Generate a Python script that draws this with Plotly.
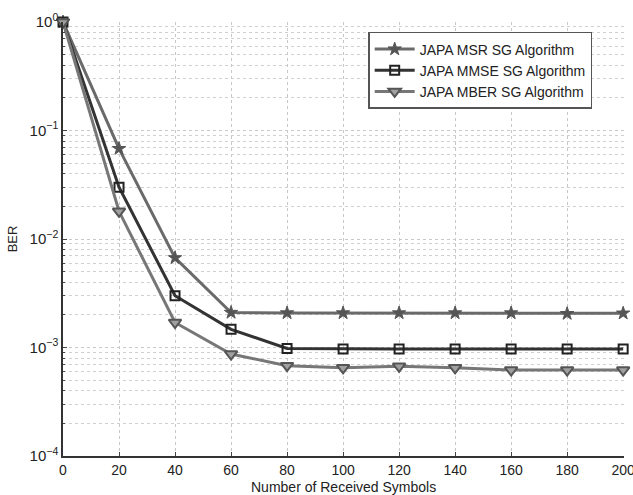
import plotly.graph_objects as go

symbols_x = [0, 20, 40, 60, 80, 100, 120, 140, 160, 180, 200]
ber_msr = [1.0, 0.068, 0.0067, 0.0021, 0.00208, 0.00208, 0.00208, 0.00208, 0.00208, 0.00205, 0.00207]
ber_mmse = [1.0, 0.030, 0.0030, 0.00147, 0.00098, 0.00097, 0.00097, 0.00097, 0.00097, 0.00097, 0.00097]
ber_mber = [1.0, 0.018, 0.0017, 0.00087, 0.00068, 0.00065, 0.00067, 0.00065, 0.00062, 0.00062, 0.00062]

series_names = ["JAPA MSR SG Algorithm", "JAPA MMSE SG Algorithm", "JAPA MBER SG Algorithm"]
x_ticks = [0, 20, 40, 60, 80, 100, 120, 140, 160, 180, 200]
y_tickvals = [1e-4, 1e-3, 1e-2, 1e-1, 1]
y_ticktext = ["10<sup>\u22124</sup>", "10<sup>\u22123</sup>", "10<sup>\u22122</sup>", "10<sup>\u22121</sup>", "10<sup>0</sup>"]

fig = go.Figure()
fig.add_trace(go.Scatter(
    x=symbols_x, y=ber_msr, name=series_names[0], mode="lines+markers",
    line=dict(color="#6a6a6a", width=3),
    marker=dict(symbol="star", size=10, color="#555555", line=dict(color="#555555", width=1)),
    cliponaxis=False))
fig.add_trace(go.Scatter(
    x=symbols_x, y=ber_mmse, name=series_names[1], mode="lines+markers",
    line=dict(color="#333333", width=3),
    marker=dict(symbol="square-open", size=9, color="#222222", line=dict(width=2)),
    cliponaxis=False))
fig.add_trace(go.Scatter(
    x=symbols_x, y=ber_mber, name=series_names[2], mode="lines+markers",
    line=dict(color="#777777", width=3),
    marker=dict(symbol="triangle-down", size=11, color="#a0a0a0", line=dict(color="#555555", width=2)),
    cliponaxis=False))

fig.update_layout(
    width=633, height=495,
    margin=dict(l=63, r=9, t=22, b=39),
    paper_bgcolor="white", plot_bgcolor="white",
    font=dict(family="Liberation Sans, Arial, sans-serif", size=13, color="#222222"),
    showlegend=True,
    legend=dict(x=0.544, y=0.977, xanchor="left", yanchor="top",
                bgcolor="white", bordercolor="#555555", borderwidth=1.5,
                font=dict(size=14), tracegroupgap=0, itemwidth=40),
    annotations=[dict(text="Number of Received Symbols", xref="paper", yref="paper",
                      x=0.5, y=0, yshift=-31, xanchor="center", yanchor="middle",
                      showarrow=False, font=dict(size=14))],
)
fig.update_xaxes(
    range=[0, 200.3], tickvals=x_ticks, ticks="inside", ticklen=4,
    ticklabeloverflow="allow", automargin=False,
    showline=True, linecolor="#333333", linewidth=1.5,
    showgrid=True, gridcolor="#c8c8c8", griddash="dot", gridwidth=1,
    zeroline=False, tickfont=dict(size=14),
)
fig.update_yaxes(
    type="log", range=[-4, 0], tickvals=y_tickvals, ticktext=y_ticktext,
    ticks="inside", ticklen=4, automargin=False,
    showline=True, linecolor="#333333", linewidth=1.5,
    showgrid=True, gridcolor="#c8c8c8", griddash="dot", gridwidth=1,
    minor=dict(ticks="inside", ticklen=2, showgrid=True, gridcolor="#d0d0d0", griddash="dot", dtick="D1"),
    zeroline=False, tickfont=dict(size=15),
    title=dict(text="BER", font=dict(size=13), standoff=9),
)

fig.write_html("out.html", config={"displayModeBar": False},
               post_script="document.body.style.margin='0';document.body.style.overflow='hidden';")
